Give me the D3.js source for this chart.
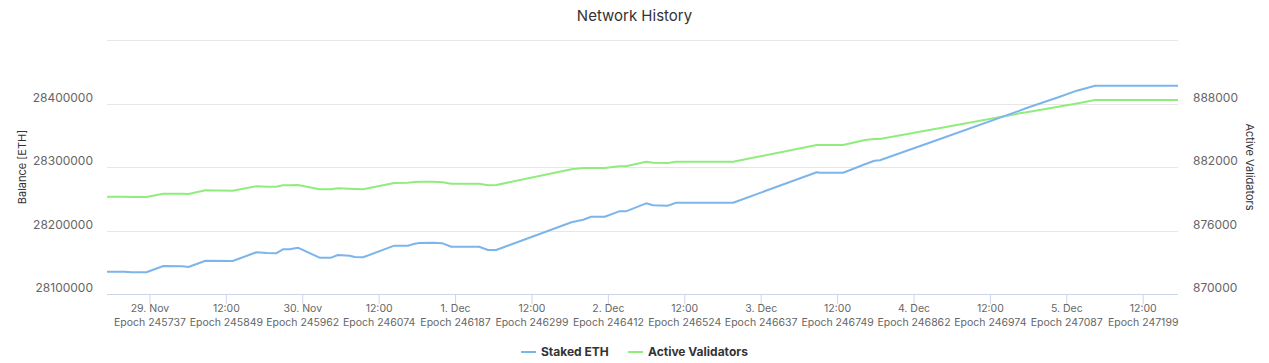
<!DOCTYPE html>
<html>
<head>
<meta charset="utf-8">
<title>Network History</title>
<script src="https://cdn.jsdelivr.net/npm/d3@7"></script>
<style>
  html, body { margin: 0; padding: 0; background: #fff; }
  #chart { width: 1269px; height: 363px; }
  text { font-family: Inter, "Noto Sans", sans-serif; }
</style>
</head>
<body>
<div id="chart"></div>
<script>
// Epochs (x) with the two series
const epochs = [245675, 245701, 245711, 245733, 245758, 245786, 245795, 245820, 245860, 245895,
  245911, 245924, 245934, 245944, 245956, 245988, 246005, 246015, 246032, 246040,
  246052, 246098, 246118, 246128, 246135, 246155, 246169, 246182, 246223, 246236,
  246248, 246359, 246376, 246388, 246408, 246429, 246439, 246469, 246479, 246501,
  246513, 246597, 246720, 246725, 246759, 246791, 246805, 246813, 246884, 247019,
  247029, 247078, 247103, 247130, 247252];

const stakedEth = [28135100, 28135100, 28134200, 28134200, 28144100, 28143600, 28142500, 28152400, 28152000, 28165700,
  28164600, 28164100, 28170400, 28170400, 28172900, 28157200, 28157200, 28161400, 28160300, 28158300,
  28157800, 28176100, 28176100, 28179200, 28180300, 28180800, 28179800, 28174500, 28174500, 28169300,
  28169300, 28212900, 28217000, 28221700, 28221700, 28230200, 28230200, 28242800, 28239700, 28239100,
  28243800, 28243800, 28291700, 28291000, 28291000, 28304300, 28309900, 28310600, 28337300, 28388700,
  28392900, 28410700, 28420200, 28428000, 28428000];

const activeValidators = [879190, 879190, 879170, 879170, 879480, 879470, 879450, 879800, 879760, 880180,
  880140, 880140, 880270, 880280, 880300, 879890, 879890, 879990, 879950, 879920,
  879890, 880490, 880520, 880580, 880610, 880610, 880550, 880420, 880420, 880270,
  880300, 881780, 881910, 881910, 881910, 882070, 882070, 882500, 882410, 882380,
  882500, 882500, 884080, 884080, 884080, 884550, 884650, 884650, 885470, 887070,
  887170, 887720, 888000, 888330, 888330];

// Tick labels for the x axis (date line + epoch line)
const tickEpochs = [245737.5, 245850, 245962.5, 246075, 246187.5, 246300, 246412.5,
  246525, 246637.5, 246750, 246862.5, 246975, 247087.5, 247200];
const tickDates = ["29. Nov", "12:00", "30. Nov", "12:00", "1. Dec", "12:00", "2. Dec",
  "12:00", "3. Dec", "12:00", "4. Dec", "12:00", "5. Dec", "12:00"];
const tickEpochLabels = ["Epoch 245737", "Epoch 245849", "Epoch 245962", "Epoch 246074", "Epoch 246187",
  "Epoch 246299", "Epoch 246412", "Epoch 246524", "Epoch 246637", "Epoch 246749", "Epoch 246862",
  "Epoch 246974", "Epoch 247087", "Epoch 247199"];

const leftTicks = [28100000, 28200000, 28300000, 28400000, 28500000];
const rightTicks = [870000, 876000, 882000, 888000, 894000];

const seriesNames = ["Staked ETH", "Active Validators"];
const colors = ["#7cb5ec", "#90ed7d"];

// Dimensions
const W = 1269, H = 363;
const margin = { top: 40, right: 91, bottom: 69, left: 107 };
const width = W - margin.left - margin.right;
const height = H - margin.top - margin.bottom;

const svg = d3.select("#chart")
  .append("svg")
  .attr("width", W)
  .attr("height", H);

const g = svg.append("g")
  .attr("transform", `translate(${margin.left},${margin.top})`);

// Scales
const x = d3.scaleLinear()
  .domain([epochs[0], epochs[epochs.length - 1]])
  .range([0, width]);

const yLeft = d3.scaleLinear()
  .domain([28100000, 28500000])
  .range([height, 0]);

const yRight = d3.scaleLinear()
  .domain([870000, 894000])
  .range([height, 0]);

// Grid lines
g.append("g")
  .selectAll("line")
  .data(leftTicks)
  .join("line")
  .attr("x1", 0)
  .attr("x2", width)
  .attr("y1", d => Math.round(yLeft(d)) + 0.5)
  .attr("y2", d => Math.round(yLeft(d)) + 0.5)
  .attr("stroke", "#e6e6e6");

// Left axis labels (top one hidden)
g.append("g")
  .selectAll("text")
  .data(leftTicks.slice(0, -1))
  .join("text")
  .attr("x", -14)
  .attr("y", d => yLeft(d) - 2)
  .attr("text-anchor", "end")
  .attr("font-size", 12)
  .attr("fill", "#666")
  .text(d => d);

// Right axis labels
g.append("g")
  .selectAll("text")
  .data(rightTicks.slice(0, -1))
  .join("text")
  .attr("x", width + 15)
  .attr("y", d => yRight(d) - 2)
  .attr("text-anchor", "start")
  .attr("font-size", 12)
  .attr("fill", "#666")
  .text(d => d);

// X axis
const xAxis = d3.axisBottom(x)
  .tickValues(tickEpochs)
  .tickSize(10)
  .tickFormat("");

const xg = g.append("g")
  .attr("transform", `translate(0,${height})`)
  .call(xAxis);
xg.select(".domain").attr("stroke", "#ccd6eb").attr("d", `M0,0.5H${width}`);
xg.selectAll(".tick line").attr("stroke", "#ccd6eb");

xg.selectAll(".tick").each(function (d, i) {
  const t = d3.select(this).append("text")
    .attr("fill", "#666")
    .attr("font-size", 10.5)
    .attr("text-anchor", "middle");
  t.append("tspan").attr("x", 0).attr("y", 18).text(tickDates[i]);
  t.append("tspan").attr("x", 0).attr("y", 32).text(tickEpochLabels[i]);
});

// Lines
const lineLeft = d3.line()
  .x((d, i) => x(epochs[i]))
  .y(d => yLeft(d));

const lineRight = d3.line()
  .x((d, i) => x(epochs[i]))
  .y(d => yRight(d));

g.append("path")
  .datum(activeValidators)
  .attr("fill", "none")
  .attr("stroke", colors[1])
  .attr("stroke-width", 2)
  .attr("stroke-linejoin", "round")
  .attr("d", lineRight);

g.append("path")
  .datum(stakedEth)
  .attr("fill", "none")
  .attr("stroke", colors[0])
  .attr("stroke-width", 2)
  .attr("stroke-linejoin", "round")
  .attr("d", lineLeft);

// Title
svg.append("text")
  .attr("x", W / 2)
  .attr("y", 21)
  .attr("text-anchor", "middle")
  .attr("font-size", 15)
  .attr("fill", "#333")
  .text("Network History");

// Axis titles
svg.append("text")
  .attr("transform", `translate(26,${margin.top + height / 2}) rotate(-90)`)
  .attr("text-anchor", "middle")
  .attr("font-size", 11)
  .attr("fill", "#333")
  .text("Balance [ETH]");

svg.append("text")
  .attr("transform", `translate(1246,${margin.top + height / 2}) rotate(90)`)
  .attr("text-anchor", "middle")
  .attr("font-size", 11)
  .attr("fill", "#333")
  .text("Active Validators");

// Legend
const legend = svg.append("g").attr("transform", "translate(521,352)");
const legendOffsets = [0, 107];
seriesNames.forEach((name, i) => {
  const item = legend.append("g").attr("transform", `translate(${legendOffsets[i]},0)`);
  item.append("line")
    .attr("x1", 0).attr("x2", 15)
    .attr("y1", 0).attr("y2", 0)
    .attr("stroke", colors[i])
    .attr("stroke-width", 2);
  item.append("text")
    .attr("x", 20)
    .attr("y", 4)
    .attr("font-size", 12)
    .attr("font-weight", "bold")
    .attr("fill", "#333")
    .text(name);
});
</script>
</body>
</html>
